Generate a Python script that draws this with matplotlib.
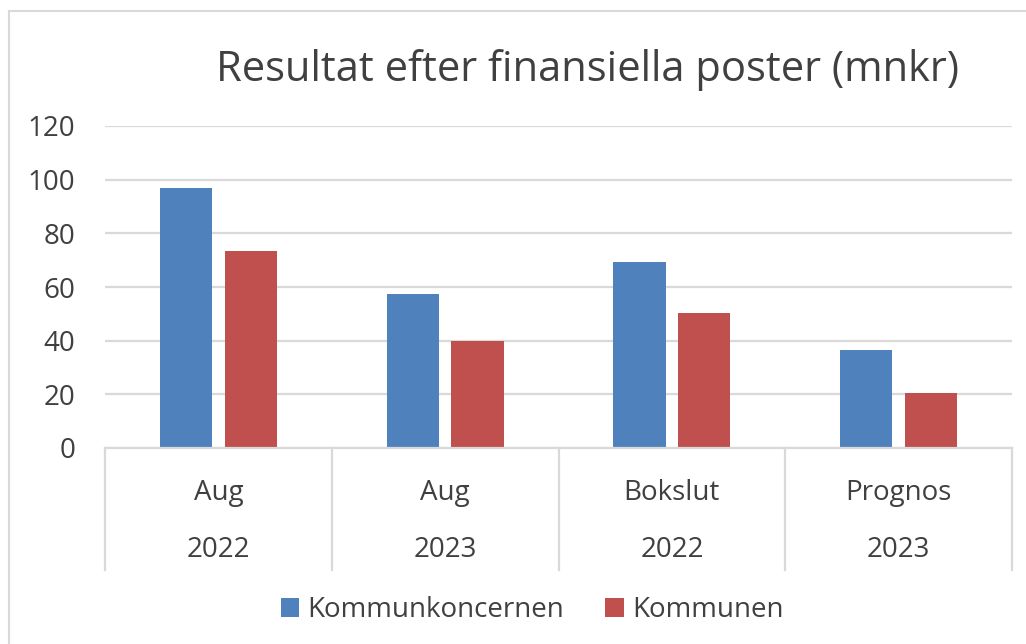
import matplotlib.pyplot as plt
import numpy as np
from matplotlib.patches import Rectangle

plt.rcParams['font.family'] = ['Open Sans', 'DejaVu Sans']

# data
periods = ['Aug', 'Aug', 'Bokslut', 'Prognos']
years = ['2022', '2023', '2022', '2023']
koncern = [97, 57.3, 69.2, 36.4]
kommunen = [73.4, 39.7, 50.3, 20.5]
series_names = ['Kommunkoncernen', 'Kommunen']
colors = ['#4F81BD', '#C0504D']
yticks = [0, 20, 40, 60, 80, 100, 120]

text_col = '#404040'
grid_col = '#d9d9d9'
fs = 20

fig = plt.figure(figsize=(10.26, 6.44), dpi=100)
ax = fig.add_axes([105/1026, 1-448/644, 907/1026, 322/644])

x = np.arange(len(periods))
w = 0.23
off = 0.143
ax.bar(x - off, koncern, w, color=colors[0], label=series_names[0], zorder=3)
ax.bar(x + off, kommunen, w, color=colors[1], label=series_names[1], zorder=3)

ax.set_xlim(-0.5, len(periods) - 0.5)
ax.set_ylim(0, 120)
ax.set_yticks(yticks)
ax.set_yticklabels([str(t) for t in yticks], fontsize=fs, color=text_col)
ax.tick_params(axis='y', length=0, pad=21.5)
ax.set_xticks([])
for s in ax.spines.values():
    s.set_visible(False)
ax.grid(axis='y', color=grid_col, lw=1.6, zorder=0)

# multi-level category axis
tr = ax.get_xaxis_transform()
ax.plot([-0.5, len(periods) - 0.5], [0, 0], color=grid_col, lw=1.6, transform=tr, clip_on=False, zorder=4)
for b in np.arange(len(periods) + 1) - 0.5:
    ax.plot([b, b], [0, -0.379], color=grid_col, lw=1.6, transform=tr, clip_on=False)
for i in range(len(periods)):
    ax.text(x[i], -0.14, periods[i], transform=tr, ha='center', va='center', fontsize=fs, color=text_col)
    ax.text(x[i], -0.317, years[i], transform=tr, ha='center', va='center', fontsize=fs, color=text_col)

fig.text(587/1026, 1-70/644, 'Resultat efter finansiella poster (mnkr)', ha='center', va='center',
         fontsize=30, color=text_col)

fig.legend(loc='center', bbox_to_anchor=(532/1026, 1-610/644), ncol=2, frameon=False,
           fontsize=fs, labelcolor=text_col, handlelength=0.65, handleheight=0.65,
           handletextpad=0.3, columnspacing=1.5)

# outer chart frame
fig.patches.append(Rectangle((9/1026, -0.1), 1.2, 1 - 11/644 + 0.1, transform=fig.transFigure,
                             fill=False, edgecolor=grid_col, lw=1.5))

fig.savefig('out.png', dpi=100)
